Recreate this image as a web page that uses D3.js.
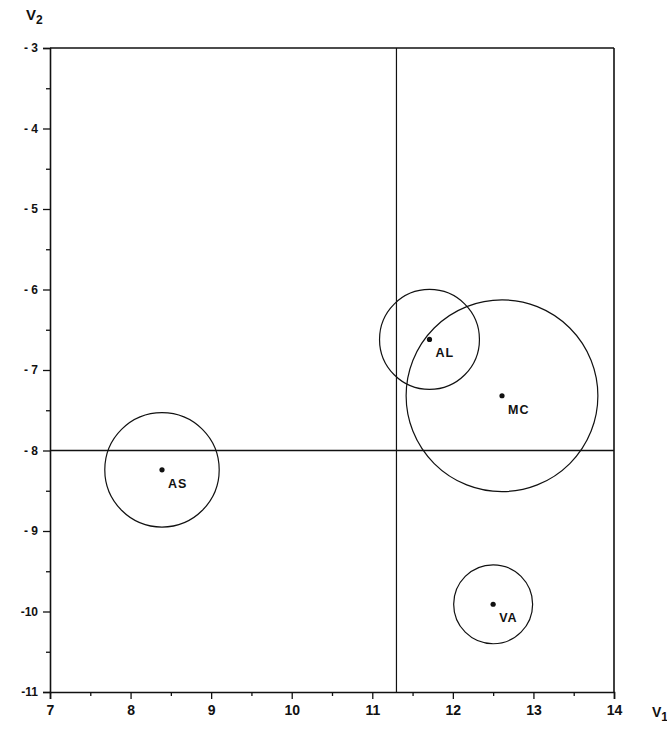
<!DOCTYPE html>
<html>
<head>
<meta charset="utf-8">
<script src="https://cdn.jsdelivr.net/npm/d3@7"></script>
<style>
  body { margin: 0; background: #fff; }
  svg { display: block; }
  text { font-family: "Liberation Sans", Arial, sans-serif; fill: #111; }
</style>
</head>
<body>
<div id="chart"></div>
<script>
// groups and their position on the two discriminant variables
var groups = ["AS", "AL", "MC", "VA"];
var v1 = [8.39, 11.71, 12.61, 12.50];
var v2 = [-8.24, -6.62, -7.32, -9.91];
var radius = [0.71, 0.62, 1.19, 0.49]; // circle radius in axis units

var xTicks = [7, 8, 9, 10, 11, 12, 13, 14];
var yTicks = [-11, -10, -9, -8, -7, -6, -5, -4, -3];
var xMinor = [7.5, 8.5, 9.5, 10.5, 11.5, 12.5, 13.5];
var yMinor = [-10.5, -9.5, -8.5, -7.5, -6.5, -5.5, -4.5, -3.5];

// dividing lines
var splitV1 = 11.3;
var splitV2 = -8.0;

var W = 667, H = 730;
var margin = {top: 48, left: 50, right: 53, bottom: 38};

var svg = d3.select('#chart')
    .append('svg')
    .attr('width', W)
    .attr('height', H);

var x = d3.scaleLinear().domain([7, 14]).range([margin.left, W - margin.right]);
var y = d3.scaleLinear().domain([-11, -3]).range([H - margin.bottom, margin.top]);

var ink = '#111';

//axes
svg.append('g')
    .attr('class', 'xaxis')
    .attr('transform', 'translate(0,' + y(-11) + ')')
    .call(d3.axisBottom(x).tickValues(xTicks).tickSize(7).tickPadding(6)
        .tickFormat(d3.format('d')));
svg.append('g')
    .attr('transform', 'translate(0,' + y(-11) + ')')
    .call(d3.axisBottom(x).tickValues(xMinor).tickSize(4).tickFormat(''))
    .select('.domain').remove();

svg.append('g')
    .attr('class', 'yaxis')
    .attr('transform', 'translate(' + x(7) + ',0)')
    .call(d3.axisLeft(y).tickValues(yTicks).tickSize(7).tickPadding(5)
        .tickFormat(function(d) { return d > -10 ? '- ' + Math.abs(d) : '-' + Math.abs(d); }));
svg.append('g')
    .attr('transform', 'translate(' + x(7) + ',0)')
    .call(d3.axisLeft(y).tickValues(yMinor).tickSize(4).tickFormat(''))
    .select('.domain').remove();

svg.selectAll('.domain').attr('stroke', ink).attr('stroke-width', 1.6);
svg.selectAll('.tick line').attr('stroke', ink).attr('stroke-width', 1.3);
svg.selectAll('.xaxis .tick text')
    .attr('font-size', 14)
    .attr('font-weight', 'bold')
    .attr('fill', ink);
svg.selectAll('.yaxis .tick text')
    .attr('font-size', 12)
    .attr('font-weight', 'bold')
    .attr('fill', ink);

// frame top and right
svg.append('line')
    .attr('x1', x(7)).attr('x2', x(14))
    .attr('y1', y(-3)).attr('y2', y(-3))
    .attr('stroke', ink).attr('stroke-width', 1.6);
svg.append('line')
    .attr('x1', x(14)).attr('x2', x(14))
    .attr('y1', y(-3)).attr('y2', y(-11))
    .attr('stroke', ink).attr('stroke-width', 1.6);

// dividing lines
svg.append('line')
    .attr('x1', x(splitV1)).attr('x2', x(splitV1))
    .attr('y1', y(-3)).attr('y2', y(-11))
    .attr('stroke', ink).attr('stroke-width', 1.2);
svg.append('line')
    .attr('x1', x(7)).attr('x2', x(14))
    .attr('y1', y(splitV2)).attr('y2', y(splitV2))
    .attr('stroke', ink).attr('stroke-width', 1.4);

var data = groups.map(function(g, i) {
    return {label: g, v1: v1[i], v2: v2[i], r: radius[i]};
});

var grp = svg.selectAll('g.grp')
    .data(data)
    .enter()
    .append('g')
    .attr('class', 'grp');

grp.append('circle')
    .attr('cx', function(d) { return x(d.v1); })
    .attr('cy', function(d) { return y(d.v2); })
    .attr('r', function(d) { return x(d.v1 + d.r) - x(d.v1); })
    .attr('fill', 'none')
    .attr('stroke', ink)
    .attr('stroke-width', 1.2);

grp.append('circle')
    .attr('cx', function(d) { return x(d.v1); })
    .attr('cy', function(d) { return y(d.v2); })
    .attr('r', 2.6)
    .attr('fill', ink);

grp.append('text')
    .attr('x', function(d) { return x(d.v1) + 6; })
    .attr('y', function(d) { return y(d.v2) + 18; })
    .attr('font-size', 12.5)
    .attr('font-weight', 'bold')
    .attr('letter-spacing', 1)
    .text(function(d) { return d.label; });

// axis titles
var yTitle = svg.append('text')
    .attr('x', 26).attr('y', 20)
    .attr('font-size', 15)
    .attr('font-weight', 'bold');
yTitle.append('tspan').text('V');
yTitle.append('tspan').attr('dy', 4).attr('font-size', 12).text('2');

var xTitle = svg.append('text')
    .attr('x', 652).attr('y', 717)
    .attr('font-size', 14)
    .attr('font-weight', 'bold');
xTitle.append('tspan').text('V');
xTitle.append('tspan').attr('dy', 4).attr('font-size', 12).text('1');
</script>
</body>
</html>
